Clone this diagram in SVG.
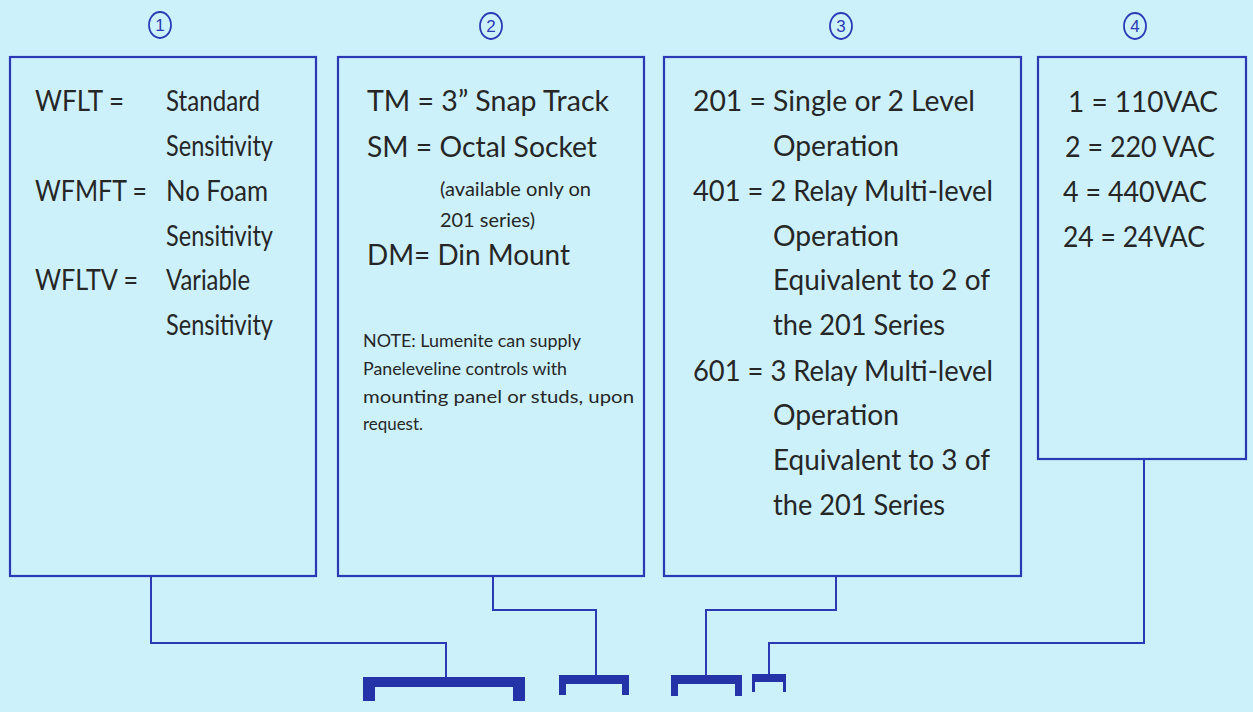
<svg xmlns="http://www.w3.org/2000/svg" width="1253" height="712" viewBox="0 0 1253 712">
<style>
.box{fill:none;stroke:#2b3ab4;stroke-width:2.2}
.num{fill:none;stroke:#2b3ab4;stroke-width:1.8}
.numt{font-family:"Liberation Sans",Arial,sans-serif;font-size:17px;fill:#2b3ab4;text-anchor:middle}
.t{font-family:Lato,"Open Sans",sans-serif;font-size:29px;fill:#262626}
.s{font-family:Lato,"Open Sans",sans-serif;font-size:19px;fill:#262626}
.n{font-family:Lato,"Open Sans",sans-serif;font-size:17px;fill:#262626}
.con{fill:none;stroke:#2b3ab4;stroke-width:2}
.br{fill:#2433a8}
</style>
<rect width="1253" height="712" fill="#cdf1fb"/>
<g id="labels">
<ellipse class="num" cx="160" cy="25" rx="11" ry="13"/><text class="numt" x="160" y="31">1</text>
<ellipse class="num" cx="491" cy="26" rx="11" ry="13"/><text class="numt" x="491" y="32">2</text>
<ellipse class="num" cx="841" cy="26" rx="11" ry="13"/><text class="numt" x="841" y="32">3</text>
<ellipse class="num" cx="1135" cy="26" rx="11" ry="13"/><text class="numt" x="1135" y="32">4</text>
</g>
<g id="node1">
<rect class="box" x="10" y="57" width="306" height="519"/>
<text class="t" x="35" y="111" textLength="89" lengthAdjust="spacingAndGlyphs">WFLT =</text>
<text class="t" x="166" y="111" textLength="94" lengthAdjust="spacingAndGlyphs">Standard</text>
<text class="t" x="166" y="156" textLength="107" lengthAdjust="spacingAndGlyphs">Sensitivity</text>
<text class="t" x="35" y="201" textLength="112" lengthAdjust="spacingAndGlyphs">WFMFT =</text>
<text class="t" x="166" y="201" textLength="102" lengthAdjust="spacingAndGlyphs">No Foam</text>
<text class="t" x="166" y="246" textLength="107" lengthAdjust="spacingAndGlyphs">Sensitivity</text>
<text class="t" x="35" y="290" textLength="103" lengthAdjust="spacingAndGlyphs">WFLTV =</text>
<text class="t" x="166" y="290" textLength="84" lengthAdjust="spacingAndGlyphs">Variable</text>
<text class="t" x="166" y="335" textLength="107" lengthAdjust="spacingAndGlyphs">Sensitivity</text>
</g>
<g id="node2">
<rect class="box" x="338" y="57" width="306" height="519"/>
<text class="t" x="367" y="111" textLength="242" lengthAdjust="spacingAndGlyphs">TM = 3” Snap Track</text>
<text class="t" x="367" y="157" textLength="230" lengthAdjust="spacingAndGlyphs">SM = Octal Socket</text>
<text class="s" x="440" y="196" textLength="151" lengthAdjust="spacingAndGlyphs">(available only on</text>
<text class="s" x="440" y="227" textLength="95" lengthAdjust="spacingAndGlyphs">201 series)</text>
<text class="t" x="367" y="265" textLength="203" lengthAdjust="spacingAndGlyphs">DM= Din Mount</text>
<text class="n" x="363" y="347" textLength="218" lengthAdjust="spacingAndGlyphs">NOTE: Lumenite can supply</text>
<text class="n" x="363" y="375" textLength="204" lengthAdjust="spacingAndGlyphs">Paneleveline controls with</text>
<text class="n" x="363" y="403" textLength="271" lengthAdjust="spacingAndGlyphs">mounting panel or studs, upon</text>
<text class="n" x="363" y="430" textLength="60" lengthAdjust="spacingAndGlyphs">request.</text>
</g>
<g id="node3">
<rect class="box" x="664" y="57" width="357" height="519"/>
<text class="t" x="693" y="111" textLength="282" lengthAdjust="spacingAndGlyphs">201 = Single or 2 Level</text>
<text class="t" x="773" y="156" textLength="126" lengthAdjust="spacingAndGlyphs">Operation</text>
<text class="t" x="693" y="201" textLength="300" lengthAdjust="spacingAndGlyphs">401 = 2 Relay Multi-level</text>
<text class="t" x="773" y="246" textLength="126" lengthAdjust="spacingAndGlyphs">Operation</text>
<text class="t" x="773" y="290" textLength="217" lengthAdjust="spacingAndGlyphs">Equivalent to 2 of</text>
<text class="t" x="773" y="335" textLength="172" lengthAdjust="spacingAndGlyphs">the 201 Series</text>
<text class="t" x="693" y="381" textLength="300" lengthAdjust="spacingAndGlyphs">601 = 3 Relay Multi-level</text>
<text class="t" x="773" y="425" textLength="126" lengthAdjust="spacingAndGlyphs">Operation</text>
<text class="t" x="773" y="470" textLength="217" lengthAdjust="spacingAndGlyphs">Equivalent to 3 of</text>
<text class="t" x="773" y="515" textLength="172" lengthAdjust="spacingAndGlyphs">the 201 Series</text>
</g>
<g id="node4">
<rect class="box" x="1038" y="57" width="208" height="402"/>
<text class="t" x="1068" y="112" textLength="150" lengthAdjust="spacingAndGlyphs">1 = 110VAC</text>
<text class="t" x="1065" y="157" textLength="150" lengthAdjust="spacingAndGlyphs">2 = 220 VAC</text>
<text class="t" x="1063" y="202" textLength="144" lengthAdjust="spacingAndGlyphs">4 = 440VAC</text>
<text class="t" x="1063" y="247" textLength="142" lengthAdjust="spacingAndGlyphs">24 = 24VAC</text>
</g>
<g id="connectors">
<polyline class="con" points="151,576 151,643 446,643 446,678"/>
<polyline class="con" points="493,576 493,610 596,610 596,676"/>
<polyline class="con" points="836,576 836,610 706,610 706,676"/>
<polyline class="con" points="1144,459 1144,643 769,643 769,675"/>
</g>
<g id="brackets">
<path class="br" d="M363,677 H525 V701 H513 V687 H375 V701 H363 Z"/>
<path class="br" d="M559,675 H629 V695 H622 V684 H566 V695 H559 Z"/>
<path class="br" d="M671,675 H742 V696 H735 V684 H678 V696 H671 Z"/>
<path class="br" d="M752,674 H786 V692 H783 V682 H755 V692 H752 Z"/>
</g>
</svg>
